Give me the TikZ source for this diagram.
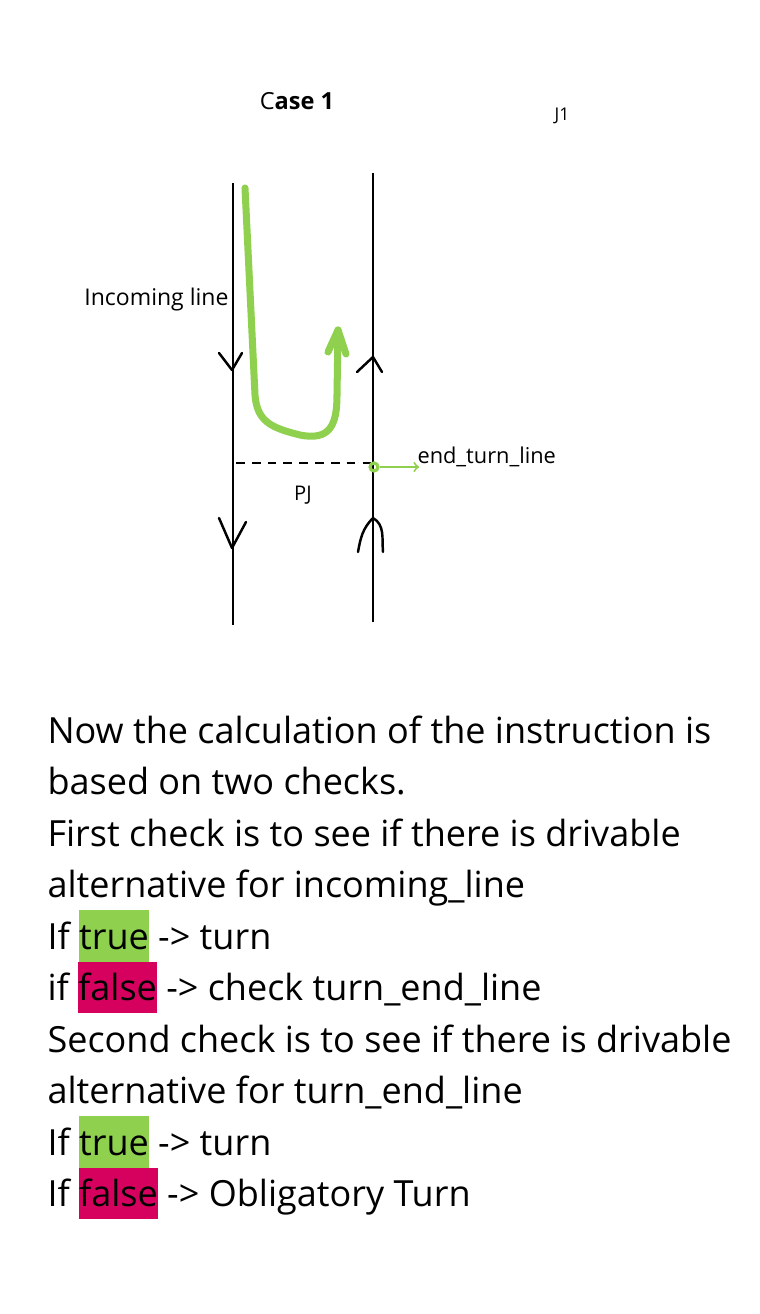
\documentclass[tikz,border=0pt]{standalone}
\usepackage{fontspec}
\setmainfont{Open Sans}
\usepackage{tikz}
\usetikzlibrary{arrows}
\definecolor{line_green}{RGB}{143,209,79}
\definecolor{box_green}{RGB}{143,209,79}
\definecolor{box_red}{RGB}{214,0,94}
\newcommand{\hlword}[2]{{\setlength{\fboxsep}{0pt}\colorbox{#1}{\rule[-7.2pt]{0pt}{29.3pt}#2}}}

\begin{document}
\begin{tikzpicture}[x=0.02cm,y=-0.02cm,semithick,>=stealth']
    \tikzstyle{road}=[draw=black, line width=1.2pt]
    \tikzstyle{head}=[draw=black, line width=1.4pt, line cap=round, line join=round]
    \tikzstyle{route}=[draw=line_green, line width=4pt, line cap=round, line join=round]
    \tikzstyle{lbl}=[inner sep=0pt, text=black]
    \tikzstyle{txt}=[lbl, anchor=base west, font=\fontsize{20.5}{24}\selectfont]

    \fill[white] (0,0) rectangle (760,1314);
    \useasboundingbox (0,0) rectangle (760,1314);

    % labels of the sketch
    \node[lbl, font=\fontsize{13.4}{16}\selectfont] (case) at (297,101) {C\textbf{ase 1}};
    \node[lbl, font=\fontsize{10}{12}\selectfont]   (j1)   at (562,116) {J1};
    \node[lbl, anchor=east, font=\fontsize{13.1}{16}\selectfont] (inc) at (229,300) {Incoming line};
    \node[lbl, font=\fontsize{11.5}{14}\selectfont] (pjl)  at (303,495) {PJ};
    \node[lbl, anchor=west, font=\fontsize{12.4}{15}\selectfont] (etl) at (417,457) {end\_turn\_line};

    % the two lines
    \coordinate (inTop)  at (233,183);
    \coordinate (inBot)  at (233,625);
    \coordinate (outTop) at (373,173);
    \coordinate (outBot) at (373,622);
    \path[road] (inTop) -- (inBot);
    \path[road] (outTop) -- (outBot);

    % hand drawn heads
    \draw[head] (219,353) -- (232,370) -- (242,353);
    \draw[head] (219,518) -- (232,548) -- (246,522);
    \draw[head] (357,372) -- (373,357) -- (382,372);
    \draw[head] (358,552) to[out=80,in=225] (373,518) to[out=-30,in=95] (383,552);

    % PJ
    \coordinate (pjLeft)  at (236,463);
    \coordinate (pjRight) at (372,463);
    \path[draw=black, line width=1.2pt, dash pattern=on 5pt off 4pt] (pjLeft) -- (pjRight);

    % the turn
    \coordinate (gTop) at (245,188);
    \coordinate (gTip) at (338,330);
    \draw[route] (gTop) -- (255,395) .. controls (257,422) and (272,428) .. (300,435)
        .. controls (330,441) and (337,425) .. (337,395) -- (gTip);
    \draw[route] (328,352) -- (gTip) -- (346,354);

    \node[circle, draw=line_green, line width=1.8pt, inner sep=0pt, minimum size=0.16cm] (pj) at (374,467) {};
    \coordinate (etlTip) at (419,467);
    \path[-to, draw=line_green, line width=1.1pt] (pj) edge (etlTip);

    % explanation
    \node[txt] (l1)  at (47,743)    {Now the calculation of the instruction is};
    \node[txt] (l2)  at (47,794.5)  {based on two checks.};
    \node[txt] (l3)  at (47,846)    {First check is to see if there is drivable};
    \node[txt] (l4)  at (47,897.5)  {alternative for incoming\_line};
    \node[txt] (l5)  at (47,949)    {If \hlword{box_green}{true} -> turn};
    \node[txt] (l6)  at (47,1000.5) {if \hlword{box_red}{false} -> check turn\_end\_line};
    \node[txt] (l7)  at (47,1052)   {Second check is to see if there is drivable};
    \node[txt] (l8)  at (47,1103.5) {alternative for turn\_end\_line};
    \node[txt] (l9)  at (47,1155)   {If \hlword{box_green}{true} -> turn};
    \node[txt] (l10) at (47,1206.5) {If \hlword{box_red}{false} -> Obligatory Turn};
\end{tikzpicture}
\end{document}
